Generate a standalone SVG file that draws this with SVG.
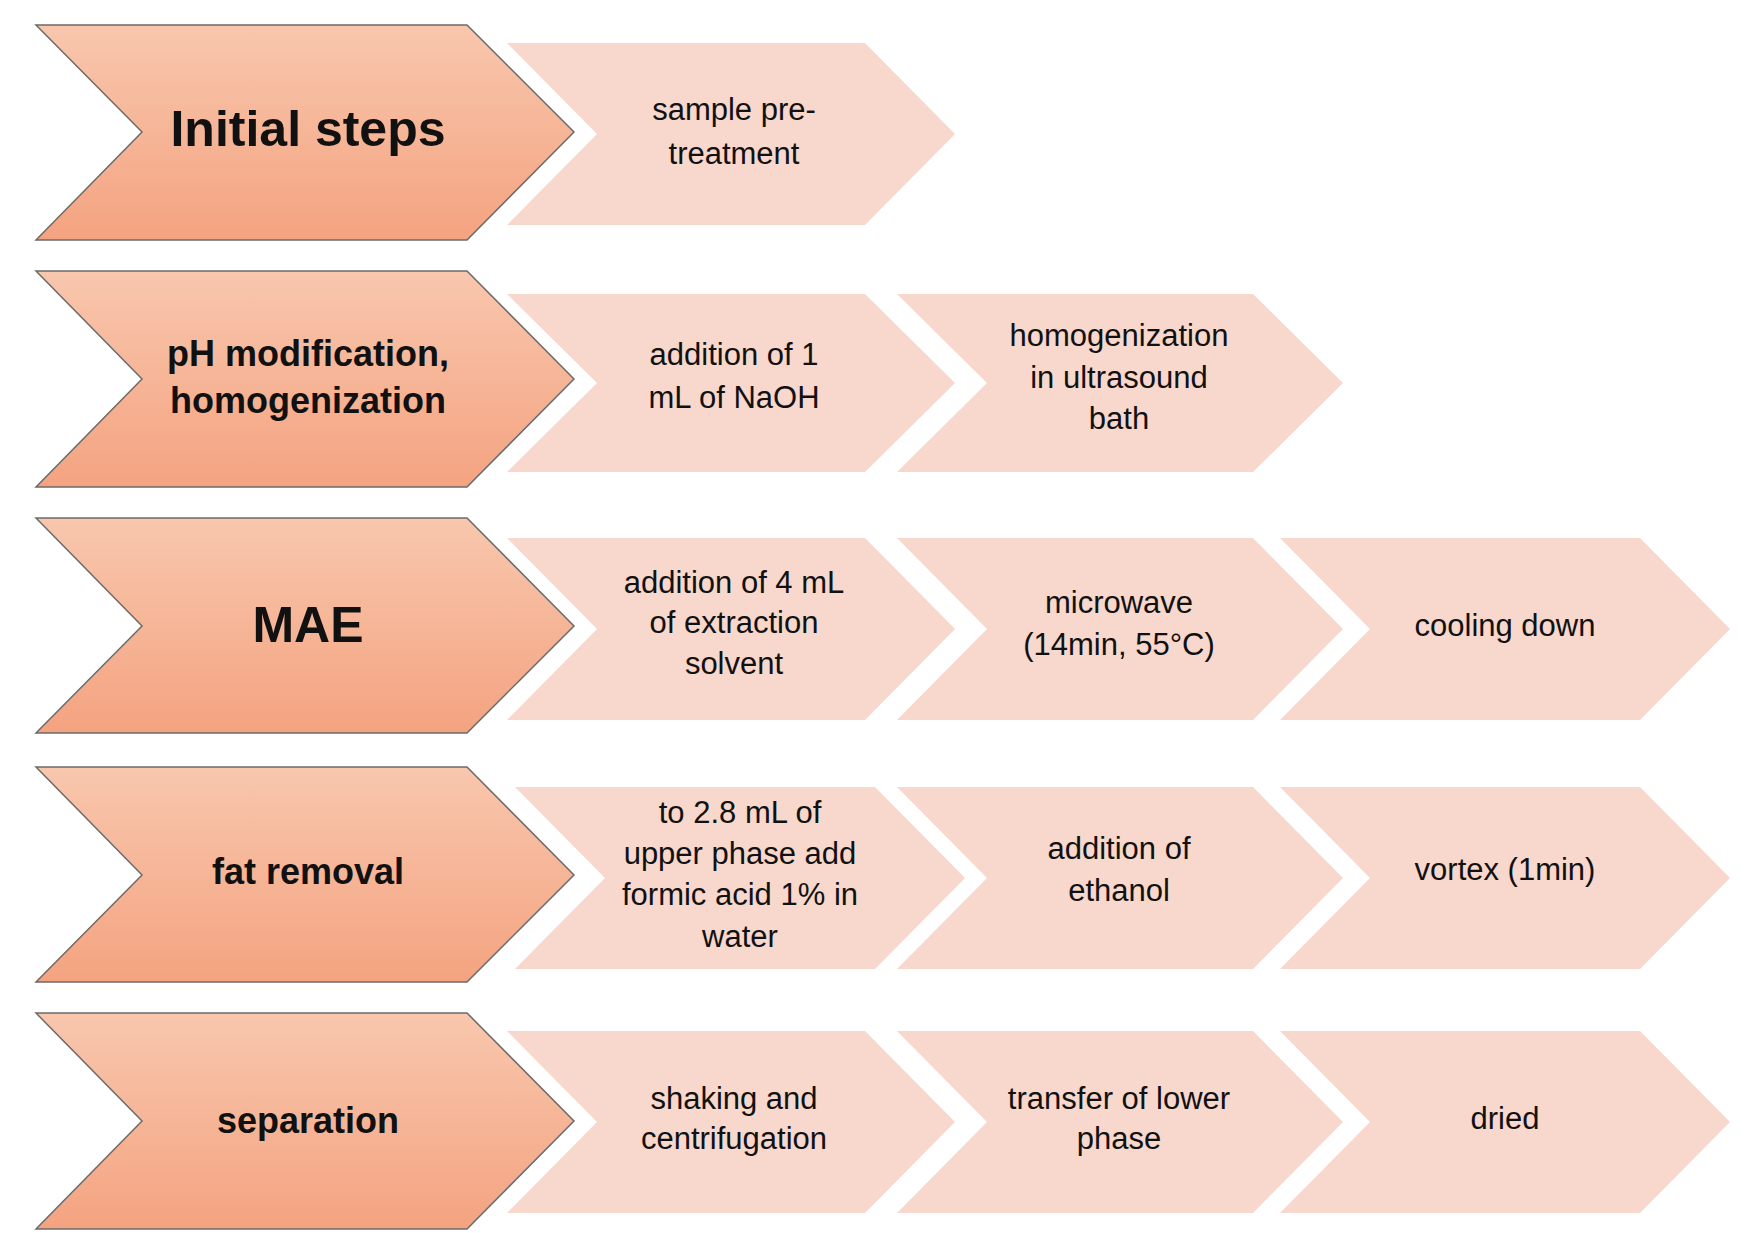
<svg xmlns="http://www.w3.org/2000/svg" width="1749" height="1233" viewBox="0 0 1749 1233">
<defs>
<linearGradient id="g" x1="0" y1="0" x2="0" y2="1"><stop offset="0" stop-color="#f8c7ae"/><stop offset="1" stop-color="#f4a380"/></linearGradient>
<style>
.big{fill:url(#g);stroke:#6b6b6b;stroke-width:1.5}
.sm{fill:#f8d7cc}
text{font-family:"Liberation Sans",Arial,sans-serif;text-anchor:middle;fill:#111}
.bt{font-weight:bold;font-size:36px}
.st{font-size:31px}
</style>
</defs>
<rect width="1749" height="1233" fill="#fff"/>
<g id="row1">
<polygon class="big" points="36,25 467,25 574,132 467,240 36,240 142,132"/>
<text class="bt" x="308" y="146" style="font-size:50px">Initial steps</text>
<polygon class="sm" points="507,43 865,43 955,134 865,225 507,225 597,134"/>
<text class="st" x="734" y="120">sample pre-</text><text class="st" x="734" y="164">treatment</text>
</g>
<g id="row2">
<polygon class="big" points="36,271 467,271 574,379 467,487 36,487 142,379"/>
<text class="bt" x="308" y="366">pH modification,</text><text class="bt" x="308" y="413">homogenization</text>
<polygon class="sm" points="507,294 865,294 955,383 865,472 507,472 597,383"/>
<text class="st" x="734" y="365">addition of 1</text><text class="st" x="734" y="408">mL of NaOH</text>
<polygon class="sm" points="897,294 1253,294 1343,383 1253,472 897,472 987,383"/>
<text class="st" x="1119" y="346">homogenization</text><text class="st" x="1119" y="388">in ultrasound</text><text class="st" x="1119" y="429">bath</text>
</g>
<g id="row3">
<polygon class="big" points="36,518 467,518 574,626 467,733 36,733 142,626"/>
<text class="bt" x="308" y="642" style="font-size:50px">MAE</text>
<polygon class="sm" points="507,538 865,538 955,629 865,720 507,720 597,629"/>
<text class="st" x="734" y="593">addition of 4 mL</text><text class="st" x="734" y="633">of extraction</text><text class="st" x="734" y="674">solvent</text>
<polygon class="sm" points="897,538 1253,538 1343,629 1253,720 897,720 987,629"/>
<text class="st" x="1119" y="613">microwave</text><text class="st" x="1119" y="655">(14min, 55°C)</text>
<polygon class="sm" points="1280,538 1640,538 1730,629 1640,720 1280,720 1370,629"/>
<text class="st" x="1505" y="636">cooling down</text>
</g>
<g id="row4">
<polygon class="big" points="36,767 467,767 574,875 467,982 36,982 142,875"/>
<text class="bt" x="308" y="884">fat removal</text>
<polygon class="sm" points="515,787 875,787 965,878 875,969 515,969 605,878"/>
<text class="st" x="740" y="823">to 2.8 mL of</text><text class="st" x="740" y="864">upper phase add</text><text class="st" x="740" y="905">formic acid 1% in</text><text class="st" x="740" y="947">water</text>
<polygon class="sm" points="897,787 1253,787 1343,878 1253,969 897,969 987,878"/>
<text class="st" x="1119" y="859">addition of</text><text class="st" x="1119" y="901">ethanol</text>
<polygon class="sm" points="1280,787 1640,787 1730,878 1640,969 1280,969 1370,878"/>
<text class="st" x="1505" y="880">vortex (1min)</text>
</g>
<g id="row5">
<polygon class="big" points="36,1013 467,1013 574,1121 467,1229 36,1229 142,1121"/>
<text class="bt" x="308" y="1133">separation</text>
<polygon class="sm" points="507,1031 865,1031 955,1122 865,1213 507,1213 597,1122"/>
<text class="st" x="734" y="1109">shaking and</text><text class="st" x="734" y="1149">centrifugation</text>
<polygon class="sm" points="897,1031 1253,1031 1343,1122 1253,1213 897,1213 987,1122"/>
<text class="st" x="1119" y="1109">transfer of lower</text><text class="st" x="1119" y="1149">phase</text>
<polygon class="sm" points="1280,1031 1640,1031 1730,1122 1640,1213 1280,1213 1370,1122"/>
<text class="st" x="1505" y="1129">dried</text>
</g>
<g id="connectors"/>
</svg>
